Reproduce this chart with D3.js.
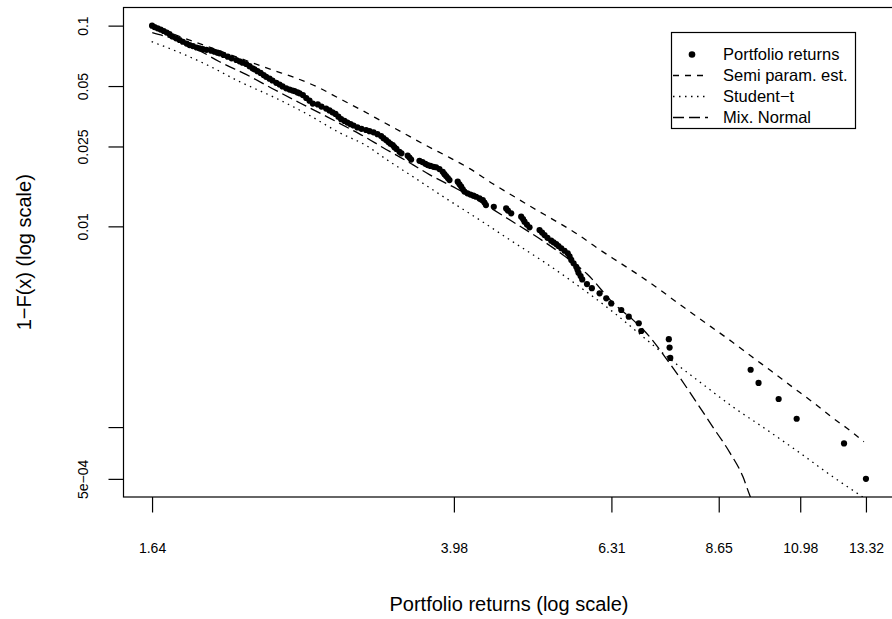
<!DOCTYPE html>
<html>
<head>
<meta charset="utf-8">
<script src="https://cdn.jsdelivr.net/npm/d3@7"></script>
<style>
  body { margin: 0; background: #fff; }
  text { font-family: "Liberation Sans", Arial, Helvetica, sans-serif; fill: #000; }
</style>
</head>
<body>
<div id="chart"></div>
<script>
const width = 892;
const height = 619;

// empirical tail: portfolio returns and 1-F(x)
const retX = [
  1.64, 1.652, 1.667, 1.682, 1.697, 1.712, 1.726, 1.741, 1.760, 1.778,
  1.795, 1.815, 1.831, 1.849, 1.869, 1.885, 1.903, 1.924, 1.951, 1.970,
  1.987, 1.999, 2.023, 2.048, 2.071, 2.100, 2.120, 2.139, 2.162, 2.183,
  2.202, 2.215, 2.234, 2.255, 2.275, 2.292, 2.315, 2.335, 2.361, 2.384,
  2.405, 2.431, 2.455, 2.477, 2.491, 2.513, 2.528, 2.553, 2.578, 2.603,
  2.628,
  2.667, 2.696, 2.733, 2.760, 2.784, 2.809, 2.833, 2.856, 2.884, 2.909,
  2.936, 2.962, 2.996, 3.032, 3.073, 3.104, 3.141, 3.177, 3.212, 3.234,
  3.259, 3.281, 3.301, 3.323, 3.339, 3.359, 3.389, 3.409,
  3.472, 3.490, 3.507,
  3.594, 3.626, 3.657, 3.682, 3.712, 3.745, 3.774, 3.811, 3.848, 3.867, 3.886, 3.906, 3.925,
  4.021, 4.042, 4.062, 4.081, 4.101, 4.137, 4.174, 4.211, 4.244, 4.286, 4.328, 4.349, 4.368,
  4.470,
  4.635, 4.659, 4.704,
  4.844, 4.870, 4.891, 4.926, 4.964,
  5.112, 5.150, 5.187, 5.232, 5.290, 5.326, 5.368, 5.404, 5.448, 5.501,
  5.553, 5.583, 5.611, 5.649, 5.693, 5.714, 5.731, 5.766, 5.794,
  5.875, 5.960, 6.097, 6.217, 6.309, 6.497, 6.642, 6.840, 6.890,
  7.470, 7.487, 7.502, 9.497, 9.720, 10.31, 10.87, 12.49, 13.32
];
const tailProb = [
  0.1, 0.0984, 0.0970, 0.0956, 0.0940, 0.0924, 0.0908, 0.0884, 0.0864, 0.0848,
  0.0831, 0.0814, 0.0800, 0.0791, 0.0778, 0.0771, 0.0765, 0.0758, 0.0750, 0.0741,
  0.0733, 0.0728, 0.0714, 0.0700, 0.0687, 0.0674, 0.0664, 0.0654, 0.0644, 0.0628,
  0.0613, 0.0606, 0.0593, 0.0581, 0.0567, 0.0556, 0.0544, 0.0533, 0.0519, 0.0509,
  0.0498, 0.0487, 0.0480, 0.0475, 0.0472, 0.0465, 0.0460, 0.0451, 0.0436, 0.0423,
  0.0409,
  0.0405, 0.0395, 0.0386, 0.0378, 0.0370, 0.0363, 0.0352, 0.0342, 0.0335, 0.0329,
  0.0323, 0.0318, 0.0311, 0.0306, 0.0302, 0.0298, 0.0294, 0.0288, 0.0282, 0.0275,
  0.0269, 0.0263, 0.0258, 0.0254, 0.0248, 0.0243, 0.0235, 0.0231,
  0.0225, 0.0220, 0.0215,
  0.0212, 0.0209, 0.0205, 0.0202, 0.0200, 0.0198, 0.0197, 0.0193, 0.0187, 0.0182, 0.0178, 0.0174, 0.0170,
  0.0167, 0.0162, 0.0158, 0.0153, 0.0149, 0.0146, 0.0144, 0.01422, 0.01404, 0.01377, 0.01352, 0.01314, 0.01277,
  0.01252,
  0.01229, 0.01199, 0.01161,
  0.01117, 0.01088, 0.01055, 0.01021, 0.00989,
  0.00958, 0.00931, 0.00905, 0.00877, 0.00848, 0.00833, 0.00816, 0.00798, 0.00778, 0.00756,
  0.00734, 0.00708, 0.00680, 0.00655, 0.00629, 0.00608, 0.00587, 0.00565, 0.00544,
  0.00516, 0.00492, 0.00464, 0.00438, 0.00413, 0.00383, 0.00355, 0.00329, 0.00301,
  0.00274, 0.00249, 0.00221, 0.00193, 0.00166, 0.00138, 0.00110, 0.000829, 0.000552
];

// fitted tails
const semiX = [1.641, 2.095, 2.329, 2.492, 2.657, 2.843, 3.042, 3.227, 3.422, 3.671, 3.927, 4.165, 4.457, 4.726, 5.011, 5.379,
  5.704, 6.048, 6.472, 6.863, 7.277, 7.695, 8.183, 8.991, 9.534, 10.11, 10.72, 11.37, 12.05, 12.78, 13.24];
const semiY = [0.0989, 0.0701, 0.0603, 0.0551, 0.0497, 0.0433, 0.0377, 0.0332, 0.0293, 0.0252, 0.0220, 0.0194, 0.0163, 0.0142, 0.01238, 0.01054,
  0.00918, 0.00782, 0.00658, 0.00567, 0.00483, 0.00411, 0.00346, 0.00266, 0.00224, 0.00189, 0.00159, 0.00134, 0.00112, 0.000946, 0.000844];

const studX = [1.638, 1.742, 1.925, 2.120, 2.336, 2.580, 2.842, 3.078, 3.265, 3.524, 3.893, 4.286, 4.726, 5.222, 5.749, 6.340,
  6.924, 7.487, 8.177, 9.017, 9.963, 10.97, 12.09, 13.08, 13.48];
const studY = [0.0832, 0.0759, 0.0639, 0.0526, 0.0443, 0.0364, 0.0293, 0.0252, 0.0215, 0.0177, 0.0137, 0.01078, 0.00838, 0.00651, 0.00500, 0.00375,
  0.00282, 0.00219, 0.00168, 0.00126, 0.000968, 0.000744, 0.000565, 0.000459, 0.000424];

const mixX = [1.641, 1.742, 1.885, 1.999, 2.164, 2.336, 2.528, 2.738, 2.927, 3.078, 3.227, 3.389, 3.524, 3.701, 4.009, 4.379,
  4.726, 5.115, 5.539, 5.873, 6.377, 6.724, 7.060, 7.385, 7.718, 8.111, 8.501, 8.938, 9.286, 9.469, 9.751];
const mixY = [0.0923, 0.0861, 0.0751, 0.0661, 0.0570, 0.0485, 0.0413, 0.0352, 0.0307, 0.0276, 0.0247, 0.0222, 0.0203, 0.0181, 0.0154, 0.01267,
  0.01054, 0.00867, 0.00697, 0.00580, 0.00407, 0.00342, 0.00282, 0.00224, 0.00176, 0.00132, 0.00100, 0.000744, 0.000565, 0.000459, 0.000361];

const xTicks = [1.64, 3.976, 6.312, 8.648, 10.984, 13.32];
const xTickLabels = ['1.64', '3.98', '6.31', '8.65', '10.98', '13.32'];
const yTicks = [0.1, 0.05, 0.025, 0.01, 0.001, 0.000552];
const yTickLabels = ['0.1', '0.05', '0.025', '0.01', '', '5e\u221204'];

const legendLabels = ['Portfolio returns', 'Semi param. est.', 'Student\u2212t', 'Mix. Normal'];
const legendDash = [null, '6,6', '1.5,4.5', '11,5'];

// plot region (R style, 4% padding on log axes)
const box = { left: 123.5, right: 894.5, top: 7.5, bottom: 497 };

function padLog(values) {
  const ext = d3.extent(values).map(Math.log10);
  const pad = 0.04 * (ext[1] - ext[0]);
  return [Math.pow(10, ext[0] - pad), Math.pow(10, ext[1] + pad)];
}

const x = d3.scaleLog().domain(padLog(retX)).range([box.left, box.right]);
const y = d3.scaleLog().domain(padLog(tailProb)).range([box.bottom, box.top]);

const svg = d3.select('#chart')
  .append('svg')
  .attr('width', width)
  .attr('height', height)
  .style('display', 'block');

svg.append('defs').append('clipPath')
  .attr('id', 'plotclip')
  .append('rect')
  .attr('x', box.left)
  .attr('y', box.top)
  .attr('width', box.right - box.left)
  .attr('height', box.bottom - box.top);

const plot = svg.append('g').attr('clip-path', 'url(#plotclip)');

const lineFn = d3.line()
  .x(function(d) { return x(d[0]); })
  .y(function(d) { return y(d[1]); })
  .curve(d3.curveMonotoneX);

function drawCurve(xs, ys, dash) {
  plot.append('path')
    .attr('d', lineFn(d3.zip(xs, ys)))
    .attr('fill', 'none')
    .attr('stroke', '#000')
    .attr('stroke-width', 1.3)
    .attr('stroke-dasharray', dash);
}

drawCurve(semiX, semiY, legendDash[1]);
drawCurve(studX, studY, legendDash[2]);
drawCurve(mixX, mixY, legendDash[3]);

plot.selectAll('circle.pt')
  .data(d3.zip(retX, tailProb))
  .enter()
  .append('circle')
  .attr('class', 'pt')
  .attr('cx', function(d) { return x(d[0]); })
  .attr('cy', function(d) { return y(d[1]); })
  .attr('r', 3.1)
  .attr('fill', '#000');

// box
svg.append('rect')
  .attr('x', box.left)
  .attr('y', box.top)
  .attr('width', box.right - box.left)
  .attr('height', box.bottom - box.top)
  .attr('fill', 'none')
  .attr('stroke', '#000')
  .attr('stroke-width', 1.2);

// axes
const xAxis = d3.axisBottom(x)
  .tickValues(xTicks)
  .tickFormat(function(d, i) { return xTickLabels[i]; })
  .tickSize(15.5)
  .tickPadding(0);

const gx = svg.append('g')
  .attr('transform', 'translate(0,' + box.bottom + ')')
  .call(xAxis);
gx.select('.domain').remove();
gx.selectAll('line').attr('stroke', '#000').attr('stroke-width', 1.2);
gx.selectAll('text')
  .attr('y', 56)
  .attr('dy', null)
  .style('font-size', '14px')
  .style('font-family', '"Liberation Sans", Arial, sans-serif');

const yAxis = d3.axisLeft(y)
  .tickValues(yTicks)
  .tickFormat(function(d, i) { return yTickLabels[i]; })
  .tickSize(15)
  .tickPadding(0);

const gy = svg.append('g')
  .attr('transform', 'translate(' + box.left + ',0)')
  .call(yAxis);
gy.select('.domain').remove();
gy.selectAll('line').attr('stroke', '#000').attr('stroke-width', 1.2);
gy.selectAll('text')
  .attr('x', null)
  .attr('dy', null)
  .attr('text-anchor', 'middle')
  .attr('transform', 'translate(-35.5,0) rotate(-90)')
  .style('font-size', '14px')
  .style('font-family', '"Liberation Sans", Arial, sans-serif');

// axis titles
svg.append('text')
  .attr('x', (box.left + box.right) / 2)
  .attr('y', 611)
  .attr('text-anchor', 'middle')
  .style('font-size', '20px')
  .text('Portfolio returns (log scale)');

svg.append('text')
  .attr('transform', 'translate(31,' + ((box.top + box.bottom) / 2) + ') rotate(-90)')
  .attr('text-anchor', 'middle')
  .style('font-size', '20px')
  .text('1\u2212F(x) (log scale)');

// legend
const legend = svg.append('g');
legend.append('rect')
  .attr('x', 671.5)
  .attr('y', 32.5)
  .attr('width', 184)
  .attr('height', 96)
  .attr('fill', '#fff')
  .attr('stroke', '#000')
  .attr('stroke-width', 1.2);

const rowY = d3.scalePoint().domain(legendLabels).range([54.5, 117.5]);

legendLabels.forEach(function(label, i) {
  const ly = rowY(label);
  if (i === 0) {
    legend.append('circle')
      .attr('cx', 692)
      .attr('cy', ly)
      .attr('r', 3.3)
      .attr('fill', '#000');
  } else {
    legend.append('line')
      .attr('x1', 673)
      .attr('x2', 708)
      .attr('y1', ly)
      .attr('y2', ly)
      .attr('stroke', '#000')
      .attr('stroke-width', 1.3)
      .attr('stroke-dasharray', legendDash[i]);
  }
  legend.append('text')
    .attr('x', 723)
    .attr('y', ly)
    .attr('dy', '0.35em')
    .style('font-size', '16.5px')
    .text(label);
});
</script>
</body>
</html>
